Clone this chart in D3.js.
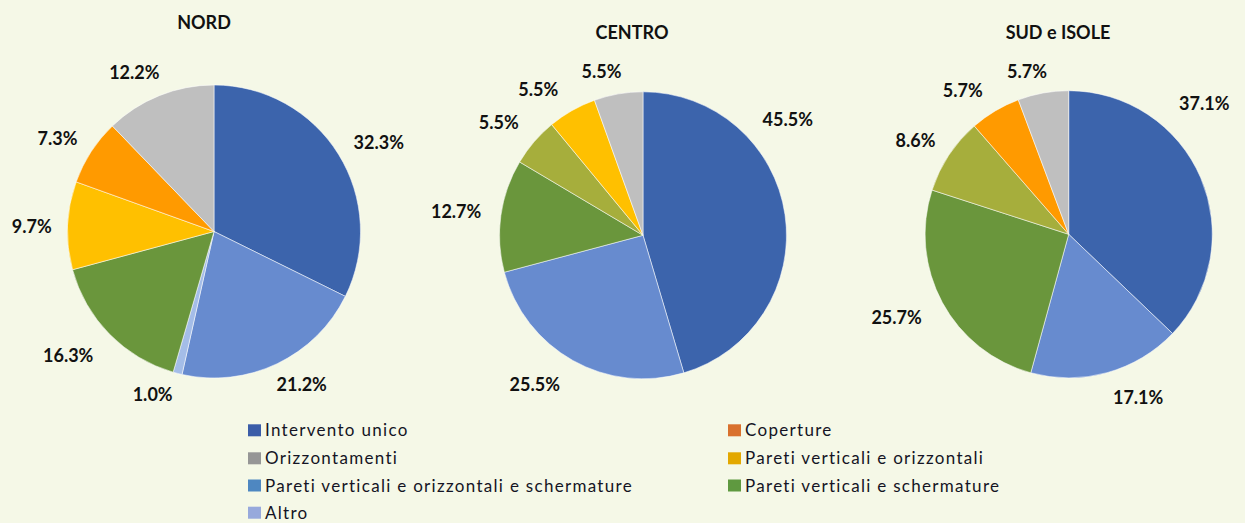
<!DOCTYPE html>
<html><head><meta charset="utf-8">
<script src="https://cdn.jsdelivr.net/npm/d3@7"></script>
<style>
html,body{margin:0;padding:0;background:#F5F8E7;}
svg{display:block}
</style>
</head><body>
<svg id="chart" width="1245" height="523"></svg>
<script>
// ---------------- DATA ----------------
const regions = ["NORD", "CENTRO", "SUD e ISOLE"];
// slice categories, in clockwise drawing order
const sliceCategories = [
  "Intervento unico",
  "Pareti verticali e orizzontali e schermature",
  "Altro",
  "Pareti verticali e schermature",
  "Altra voce",
  "Pareti verticali e orizzontali",
  "Coperture",
  "Orizzontamenti"
];
const nordValues   = [32.3, 21.2, 1.0, 16.3, 0,   9.7, 7.3, 12.2];
const centroValues = [45.5, 25.5, 0,   12.7, 5.5, 5.5, 0,   5.5];
const sudValues    = [37.1, 17.1, 0,   25.7, 8.6, 0,   5.7, 5.7];
const legendLabels = [
  "Intervento unico", "Coperture",
  "Orizzontamenti", "Pareti verticali e orizzontali",
  "Pareti verticali e orizzontali e schermature", "Pareti verticali e schermature",
  "Altro"
];

// ---------------- STYLE / LAYOUT ----------------
const sliceColors = ["#3C64AC", "#678BCF", "#A4BDE8", "#6A963C", "#A6AE3C", "#FFC000", "#FF9A00", "#BFBFBF"];
const legendColors = ["#3B5DA8", "#D9712E", "#969696", "#E3A800", "#4E87C1", "#5F9940", "#97A9DC"];

const pies = [
  {cx: 214,   cy: 231.5, r: 146.5, tx: 204,  ty: 22.5},
  {cx: 643,   cy: 235.3, r: 143.5, tx: 632,  ty: 32},
  {cx: 1068.7,cy: 234.3, r: 143.6, tx: 1058, ty: 32}
];
// manual label nudges (as in the source chart where labels were moved)
const labelNudges = [
  {0:[2,3], 1:[5,-4], 2:[-15,-5], 3:[-9,2.5], 5:[4,2], 6:[0,1], 7:[-8,2]},
  {0:[-42,-91], 1:[-16,0], 3:[0,0], 4:[-5,-2], 5:[-14,2], 7:[-10,4]},
  {0:[-38,-64], 1:[19,-1.5], 3:[-6,2], 4:[0,0], 6:[-12,3], 7:[-9,5]}
];
const labelGap = 20;
const labelFont = 18;
const fontFamily = "Lato, 'Open Sans', sans-serif";

// ---------------- DRAW ----------------
const svg = d3.select("#chart");
svg.append("rect").attr("width", 1245).attr("height", 523).attr("fill", "#F5F8E7");

const allValues = [nordValues, centroValues, sudValues];
const color = d3.scaleOrdinal().domain(sliceCategories).range(sliceColors);
const pie = d3.pie().sort(null).value(d => d.value);
const fmt = d3.format(".1f");

regions.forEach((name, i) => {
  const P = pies[i];
  const data = sliceCategories.map((c, k) => ({cat: c, idx: k, value: allValues[i][k]}))
    .filter(d => d.value > 0);
  const arcs = pie(data);
  const arc = d3.arc().innerRadius(0).outerRadius(P.r);
  const g = svg.append("g").attr("transform", `translate(${P.cx},${P.cy})`);

  g.selectAll("path").data(arcs).join("path")
    .attr("d", arc)
    .attr("fill", d => color(d.data.cat))
    .attr("stroke", "#ffffff")
    .attr("stroke-opacity", 0.7)
    .attr("stroke-width", 0.75);

  // title
  svg.append("text")
    .attr("x", P.tx).attr("y", P.ty + 6.5)
    .attr("text-anchor", "middle")
    .attr("font-family", fontFamily).attr("font-weight", 700)
    .attr("font-size", labelFont).attr("fill", "#111")
    .text(name);

  // labels
  arcs.forEach(a => {
    const t = g.append("text")
      .attr("text-anchor", "middle")
      .attr("font-family", fontFamily).attr("font-weight", 700)
      .attr("font-size", labelFont).attr("fill", "#111")
      .text(fmt(a.data.value) + "%");
    const hw = t.node().getComputedTextLength() / 2;
    const hh = 7;
    const th = (a.startAngle + a.endAngle) / 2;
    const s = Math.sin(th), c = Math.cos(th);
    const nd = labelNudges[i][a.data.idx] || [0, 0];
    const x = (P.r + labelGap) * s + hw * s + nd[0];
    const y = -(P.r + labelGap) * c - hh * c + nd[1];
    t.attr("x", x).attr("y", y + 6.5);
  });
});

// legend
const legendCols = [248, 728];
const legendRows = [430.3, 458.3, 485.5, 512.7];
const lg = svg.append("g");
legendLabels.forEach((lab, k) => {
  const col = k % 2, row = Math.floor(k / 2);
  const x = legendCols[col], y = legendRows[row];
  lg.append("rect").attr("x", x).attr("y", y - 6).attr("width", 13).attr("height", 12)
    .attr("fill", legendColors[k]);
  lg.append("text").attr("x", x + 17).attr("y", y + 6)
    .attr("font-family", fontFamily).attr("font-size", 17)
    .attr("letter-spacing", 1.3).attr("fill", "#141424")
    .text(lab);
});
</script>
</body></html>
